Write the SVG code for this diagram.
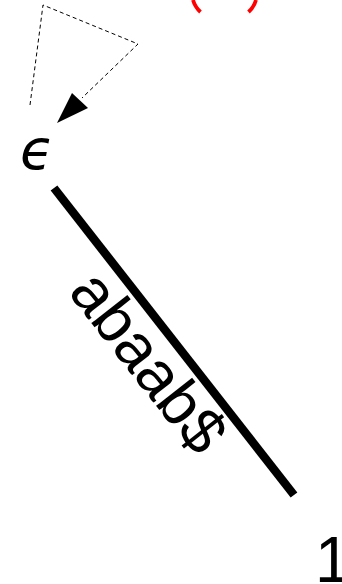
<svg xmlns="http://www.w3.org/2000/svg" width="342" height="584" viewBox="0 0 342 584">
<style>
.lbl{font-family:"Liberation Sans",Arial,sans-serif;fill:#000}
.eps{font-family:"DejaVu Sans",sans-serif;font-style:italic;fill:#000}
</style>
<rect width="342" height="584" fill="#fff"/>
<g id="root-label">
<path d="M193,0 Q195,7 200.5,12" fill="none" stroke="#ff0000" stroke-width="3.8"/>
<path d="M256,0 Q254,7 248.5,12" fill="none" stroke="#ff0000" stroke-width="3.8"/>
</g>
<g id="connectors">
<path d="M30,105 L43,5 L138,44 L82,98" fill="none" stroke="#000" stroke-width="1" stroke-dasharray="4,3"/>
<polygon points="57,123 72,93 88,108" fill="#000"/>
<line x1="54" y1="188" x2="294" y2="495" stroke="#000" stroke-width="8.5"/>
<text class="lbl" font-size="63" text-anchor="middle" transform="translate(132,375) rotate(52)">abaab$</text>
</g>
<g id="node-eps">
<text class="eps" x="20" y="169" font-size="55">ϵ</text>
</g>
<g id="node-1">
<text class="lbl" x="315" y="582" font-size="64">1</text>
</g>
</svg>
